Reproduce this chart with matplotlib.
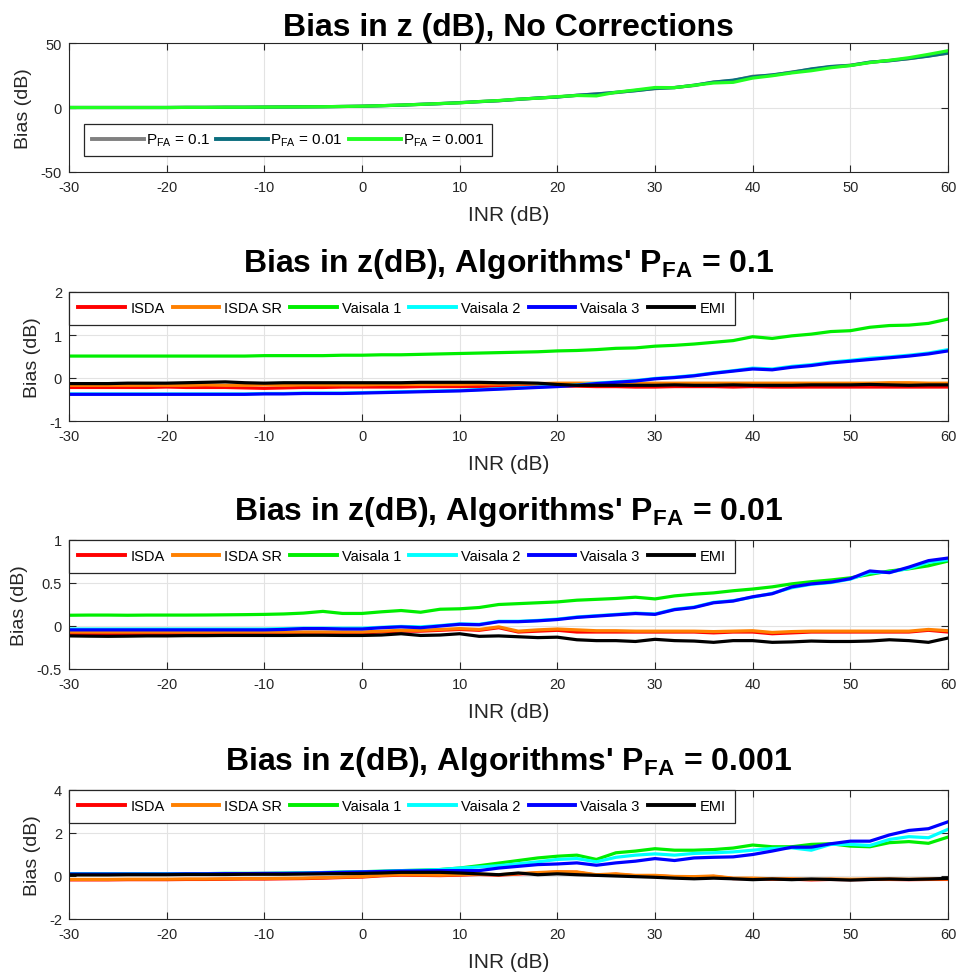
import numpy as np
import matplotlib
matplotlib.use("Agg")
from matplotlib import pyplot as plt

plt.rcParams['font.family'] = ['Liberation Sans', 'DejaVu Sans']
plt.rcParams['mathtext.fontset'] = 'custom'
plt.rcParams['mathtext.rm'] = 'Liberation Sans'
plt.rcParams['mathtext.it'] = 'Liberation Sans:italic'
plt.rcParams['mathtext.bf'] = 'Liberation Sans:bold'
plt.rcParams['axes.unicode_minus'] = False

inr = np.arange(-30, 61, 2)

# panel 1: no corrections
nc_01 = [0, 0, 0, 0, 0, 0, 0.1, 0.1, 0.2, 0.2, 0.3, 0.4, 0.5, 0.6, 0.8,
         1.0, 1.4, 1.9, 2.4, 3.0, 3.7, 4.6, 5.2, 6.4, 7.3, 8.2, 9.4, 10.6, 11.5, 13.2,
         14.6, 15.5, 17.0, 19.8, 20.9, 24.2, 25.0, 27.5, 29.6, 31.6, 32.8, 35.0, 36.4, 37.8, 40.0, 42.0]
nc_001 = [0, 0, 0, 0, 0, 0, 0.1, 0.1, 0.2, 0.2, 0.3, 0.4, 0.5, 0.6, 0.8,
          1.0, 1.4, 1.8, 2.5, 3.0, 3.8, 4.5, 5.3, 6.3, 7.4, 8.1, 9.5, 10.4, 11.8, 13.0,
          14.8, 15.4, 17.3, 19.6, 21.2, 23.8, 25.3, 27.2, 29.9, 31.8, 32.6, 35.2, 36.2, 38.0, 39.8, 42.3]
nc_0001 = [0, 0, 0, 0, 0, 0, 0.1, 0.1, 0.2, 0.2, 0.3, 0.4, 0.5, 0.6, 0.8,
           1.0, 1.4, 1.9, 2.4, 3.1, 3.6, 4.6, 5.4, 6.5, 7.2, 8.4, 9.3, 9.0, 11.8, 13.6,
           15.5, 15.4, 17.2, 19.0, 19.5, 22.8, 24.6, 26.8, 28.5, 30.8, 32.5, 34.8, 36.6, 38.6, 41.2, 44.0]

# panel 2: PFA = 0.1
p1_isda = [-0.22, -0.22, -0.22, -0.22, -0.22, -0.21, -0.22, -0.22, -0.22, -0.23, -0.24, -0.23, -0.22, -0.22, -0.21,
           -0.21, -0.21, -0.21, -0.20, -0.20, -0.20, -0.20, -0.19, -0.19, -0.19, -0.19, -0.19, -0.20, -0.20, -0.21,
           -0.21, -0.20, -0.20, -0.20, -0.21, -0.20, -0.21, -0.21, -0.21, -0.21, -0.21, -0.21, -0.21, -0.21, -0.21, -0.21]
p1_isdasr = [-0.17, -0.17, -0.17, -0.17, -0.17, -0.17, -0.17, -0.16, -0.17, -0.17, -0.16, -0.17, -0.16, -0.16, -0.16,
             -0.16, -0.15, -0.15, -0.15, -0.15, -0.15, -0.14, -0.14, -0.14, -0.13, -0.12, -0.12, -0.12, -0.12, -0.12,
             -0.12, -0.12, -0.12, -0.12, -0.12, -0.12, -0.12, -0.12, -0.12, -0.12, -0.12, -0.12, -0.11, -0.11, -0.12, -0.12]
p1_vais1 = [0.51, 0.51, 0.51, 0.51, 0.51, 0.51, 0.51, 0.51, 0.51, 0.51, 0.52, 0.52, 0.52, 0.52, 0.53,
            0.53, 0.54, 0.54, 0.55, 0.56, 0.57, 0.58, 0.59, 0.60, 0.61, 0.63, 0.64, 0.66, 0.69, 0.70,
            0.74, 0.76, 0.79, 0.83, 0.87, 0.96, 0.92, 0.98, 1.02, 1.08, 1.10, 1.18, 1.22, 1.23, 1.27, 1.37]
p1_vais2 = [-0.37, -0.37, -0.37, -0.37, -0.37, -0.37, -0.37, -0.37, -0.37, -0.37, -0.36, -0.36, -0.35, -0.35, -0.35,
            -0.34, -0.33, -0.32, -0.31, -0.30, -0.29, -0.27, -0.25, -0.23, -0.21, -0.19, -0.16, -0.12, -0.09, -0.06,
            -0.01, 0.02, 0.06, 0.12, 0.17, 0.23, 0.21, 0.27, 0.31, 0.37, 0.41, 0.46, 0.49, 0.53, 0.58, 0.66]
p1_vais3 = [-0.38, -0.38, -0.38, -0.38, -0.38, -0.38, -0.38, -0.38, -0.38, -0.38, -0.37, -0.37, -0.36, -0.36, -0.36,
            -0.35, -0.34, -0.33, -0.32, -0.31, -0.30, -0.28, -0.26, -0.24, -0.22, -0.20, -0.17, -0.13, -0.10, -0.07,
            -0.02, 0.01, 0.05, 0.11, 0.16, 0.21, 0.19, 0.25, 0.29, 0.35, 0.39, 0.43, 0.47, 0.51, 0.56, 0.63]
p1_emi = [-0.13, -0.13, -0.13, -0.12, -0.12, -0.12, -0.11, -0.10, -0.09, -0.11, -0.12, -0.11, -0.11, -0.11, -0.11,
          -0.11, -0.11, -0.11, -0.10, -0.10, -0.10, -0.10, -0.11, -0.11, -0.12, -0.15, -0.17, -0.17, -0.17, -0.17,
          -0.17, -0.16, -0.17, -0.17, -0.16, -0.17, -0.17, -0.17, -0.16, -0.16, -0.16, -0.15, -0.16, -0.17, -0.16, -0.16]

# panel 3: PFA = 0.01
p2_isda = [-0.09, -0.09, -0.09, -0.09, -0.09, -0.09, -0.09, -0.09, -0.09, -0.09, -0.09, -0.08, -0.08, -0.08, -0.08,
           -0.08, -0.07, -0.06, -0.06, -0.05, -0.04, -0.05, -0.02, -0.07, -0.06, -0.05, -0.07, -0.07, -0.07, -0.07,
           -0.07, -0.07, -0.07, -0.08, -0.07, -0.07, -0.09, -0.08, -0.07, -0.07, -0.07, -0.07, -0.07, -0.07, -0.05, -0.07]
p2_isdasr = [-0.07, -0.07, -0.07, -0.07, -0.07, -0.07, -0.07, -0.07, -0.07, -0.07, -0.07, -0.07, -0.07, -0.07, -0.07,
             -0.07, -0.06, -0.05, -0.05, -0.04, -0.03, -0.04, -0.01, -0.06, -0.045, -0.035, -0.045, -0.055, -0.055, -0.06,
             -0.06, -0.06, -0.06, -0.065, -0.06, -0.055, -0.075, -0.065, -0.06, -0.06, -0.06, -0.06, -0.06, -0.06, -0.04, -0.055]
p2_vais1 = [0.125, 0.127, 0.127, 0.125, 0.127, 0.127, 0.127, 0.128, 0.130, 0.132, 0.135, 0.140, 0.150, 0.170, 0.146,
            0.146, 0.165, 0.180, 0.160, 0.195, 0.200, 0.215, 0.250, 0.260, 0.270, 0.280, 0.300, 0.310, 0.320, 0.335,
            0.315, 0.350, 0.370, 0.385, 0.410, 0.430, 0.455, 0.490, 0.515, 0.535, 0.560, 0.600, 0.640, 0.665, 0.700, 0.755]
p2_vais2 = [-0.035, -0.035, -0.035, -0.035, -0.035, -0.035, -0.035, -0.035, -0.035, -0.035, -0.035, -0.030, -0.025, -0.025, -0.025,
            -0.025, -0.015, -0.005, -0.010, 0.005, 0.025, 0.020, 0.055, 0.055, 0.065, 0.080, 0.105, 0.120, 0.135, 0.150,
            0.140, 0.195, 0.220, 0.275, 0.295, 0.335, 0.380, 0.445, 0.485, 0.505, 0.545, 0.620, 0.625, 0.670, 0.740, 0.770]
p2_vais3 = [-0.045, -0.045, -0.045, -0.045, -0.045, -0.045, -0.045, -0.045, -0.045, -0.045, -0.045, -0.040, -0.030, -0.030, -0.035,
            -0.035, -0.020, -0.010, -0.020, 0.000, 0.020, 0.015, 0.050, 0.050, 0.060, 0.075, 0.100, 0.115, 0.130, 0.145,
            0.135, 0.190, 0.215, 0.270, 0.290, 0.340, 0.375, 0.455, 0.490, 0.510, 0.550, 0.640, 0.620, 0.685, 0.760, 0.790]
p2_emi = [-0.115, -0.118, -0.12, -0.118, -0.115, -0.115, -0.112, -0.112, -0.11, -0.11, -0.11, -0.11, -0.108, -0.108, -0.11,
          -0.11, -0.105, -0.09, -0.11, -0.105, -0.09, -0.12, -0.115, -0.125, -0.135, -0.13, -0.16, -0.17, -0.17, -0.18,
          -0.155, -0.17, -0.175, -0.19, -0.17, -0.17, -0.19, -0.185, -0.175, -0.18, -0.18, -0.175, -0.16, -0.17, -0.19, -0.14]

# panel 4: PFA = 0.001
p3_isdasr = [-0.16, -0.16, -0.16, -0.15, -0.15, -0.15, -0.14, -0.14, -0.13, -0.12, -0.12, -0.11, -0.10, -0.08, -0.05,
             -0.03, 0.03, 0.06, 0.05, 0.04, 0.06, 0.09, 0.06, 0.11, 0.16, 0.20, 0.19, 0.06, 0.10, 0.03,
             0.03, -0.02, -0.03, 0.00, -0.10, -0.10, -0.13, -0.13, -0.16, -0.14, -0.15, -0.14, -0.14, -0.15, -0.14, -0.14]
p3_isda = [-0.18, -0.18, -0.18, -0.17, -0.17, -0.17, -0.16, -0.16, -0.15, -0.14, -0.14, -0.13, -0.12, -0.10, -0.07,
           -0.05, 0.01, 0.04, 0.03, 0.02, 0.04, 0.07, 0.04, 0.09, 0.14, 0.18, 0.17, 0.04, 0.08, 0.01,
           0.01, -0.04, -0.05, -0.02, -0.12, -0.12, -0.15, -0.15, -0.18, -0.16, -0.17, -0.16, -0.16, -0.17, -0.16, -0.16]
p3_vais1 = [0.10, 0.10, 0.10, 0.10, 0.10, 0.10, 0.11, 0.11, 0.12, 0.12, 0.12, 0.13, 0.14, 0.16, 0.18,
            0.20, 0.22, 0.25, 0.27, 0.30, 0.37, 0.48, 0.60, 0.72, 0.84, 0.92, 0.97, 0.77, 1.08, 1.16,
            1.27, 1.20, 1.20, 1.23, 1.30, 1.44, 1.36, 1.36, 1.47, 1.50, 1.39, 1.36, 1.55, 1.60, 1.52, 1.81]
p3_vais2 = [0.10, 0.10, 0.10, 0.10, 0.10, 0.10, 0.11, 0.11, 0.12, 0.12, 0.12, 0.13, 0.14, 0.16, 0.18,
            0.20, 0.22, 0.25, 0.27, 0.30, 0.37, 0.42, 0.48, 0.57, 0.66, 0.77, 0.81, 0.66, 0.87, 0.97,
            1.03, 0.97, 1.05, 1.08, 1.12, 1.20, 1.28, 1.31, 1.20, 1.47, 1.47, 1.42, 1.70, 1.83, 1.78, 2.17]
p3_vais3 = [0.09, 0.09, 0.09, 0.09, 0.09, 0.09, 0.10, 0.10, 0.11, 0.11, 0.12, 0.12, 0.13, 0.15, 0.17,
            0.19, 0.21, 0.23, 0.24, 0.25, 0.25, 0.25, 0.37, 0.45, 0.53, 0.56, 0.61, 0.50, 0.61, 0.69,
            0.81, 0.72, 0.84, 0.87, 0.89, 1.00, 1.16, 1.34, 1.34, 1.50, 1.62, 1.62, 1.91, 2.12, 2.20, 2.52]
p3_emi = [0.05, 0.05, 0.05, 0.06, 0.06, 0.06, 0.07, 0.07, 0.07, 0.08, 0.08, 0.08, 0.09, 0.10, 0.11,
          0.12, 0.14, 0.17, 0.17, 0.17, 0.14, 0.10, 0.06, 0.14, 0.06, 0.10, 0.06, 0.03, 0.00, -0.03,
          -0.06, -0.10, -0.13, -0.10, -0.13, -0.17, -0.14, -0.17, -0.14, -0.16, -0.19, -0.16, -0.14, -0.16, -0.14, -0.11]

alg_names = ['ISDA', 'ISDA SR', 'Vaisala 1', 'Vaisala 2', 'Vaisala 3', 'EMI']
alg_colors = ['#ff0000', '#ff8000', '#00ee00', '#00ffff', '#0000ff', '#000000']
nc_labels = ['P$_{\\mathrm{FA}}$ = 0.1', 'P$_{\\mathrm{FA}}$ = 0.01', 'P$_{\\mathrm{FA}}$ = 0.001']
nc_colors = ['#808080', '#0b6e7e', '#22ff22']

panels = [
    ('Bias in z (dB), No Corrections', [nc_01, nc_001, nc_0001], nc_labels, nc_colors, (-50, 50), [-50, 0, 50]),
    ("Bias in z(dB), Algorithms' P$_{\\mathbf{FA}}$ = 0.1",
     [p1_isda, p1_isdasr, p1_vais1, p1_vais2, p1_vais3, p1_emi], alg_names, alg_colors, (-1, 2), [-1, 0, 1, 2]),
    ("Bias in z(dB), Algorithms' P$_{\\mathbf{FA}}$ = 0.01",
     [p2_isda, p2_isdasr, p2_vais1, p2_vais2, p2_vais3, p2_emi], alg_names, alg_colors, (-0.5, 1), [-0.5, 0, 0.5, 1]),
    ("Bias in z(dB), Algorithms' P$_{\\mathbf{FA}}$ = 0.001",
     [p3_isda, p3_isdasr, p3_vais1, p3_vais2, p3_vais3, p3_emi], alg_names, alg_colors, (-2, 4), [-2, 0, 2, 4]),
]

W, H = 959, 979
fig = plt.figure(figsize=(W / 100, H / 100), dpi=100)
dark = '#262626'
tops = [44, 293, 541, 791]

for i, (title, series, labels, colors, ylim, yticks) in enumerate(panels):
    ax = fig.add_axes([69 / W, 1 - (tops[i] + 129) / H, 879 / W, 129 / H])
    for y, lab, c in zip(series, labels, colors):
        ax.plot(inr, y, color=c, lw=2.3, label=lab)
    ax.set_xlim(-30, 60)
    ax.set_ylim(*ylim)
    ax.set_xticks(np.arange(-30, 61, 10))
    ax.set_yticks(yticks)
    ax.set_yticklabels(['%g' % t for t in yticks])
    ax.grid(True, color='#e3e3e3', lw=0.8)
    ax.set_axisbelow(True)
    ax.tick_params(direction='in', length=5, top=True, right=True, labelsize=10.5,
                   colors=dark, width=0.8)
    ax.tick_params(axis='x', pad=6)
    ax.tick_params(axis='y', pad=5)
    for s in ax.spines.values():
        s.set_color(dark)
        s.set_linewidth(0.8)
    ax.set_title(title, fontsize=23, fontweight='bold', pad=6 if i == 0 else 15)
    ax.set_xlabel('INR (dB)', fontsize=15, color=dark, labelpad=8)
    ax.set_ylabel('Bias (dB)', fontsize=14, color=dark, labelpad=6)
    if i == 0:
        leg = ax.legend(loc='lower left', bbox_to_anchor=(0.017, 0.124), borderaxespad=0, ncol=3,
                        fontsize=11, handlelength=3.4, handletextpad=0.15, columnspacing=0.4,
                        fancybox=False, framealpha=1, edgecolor=dark, borderpad=0.5)
    else:
        leg = ax.legend(loc='upper left', bbox_to_anchor=(0, 1), borderaxespad=0, ncol=6,
                        fontsize=10.5, handlelength=3.2, handletextpad=0.35, columnspacing=0.55,
                        fancybox=False, framealpha=1, edgecolor=dark, borderpad=0.65)
    leg.get_frame().set_linewidth(0.9)
    for ln in leg.get_lines():
        ln.set_linewidth(2.8)

fig.savefig('out.png', dpi=100)
